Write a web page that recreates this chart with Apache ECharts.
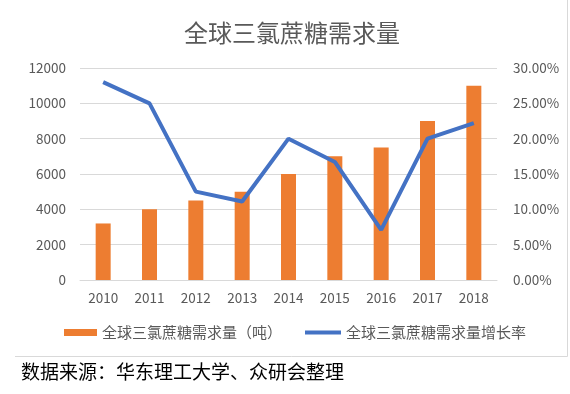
<!DOCTYPE html>
<html><head><meta charset="utf-8">
<script src="https://cdn.jsdelivr.net/npm/echarts@6/dist/echarts.min.js"></script>
<style>html,body{margin:0;padding:0;background:#fff}#c{width:570px;height:394px}</style>
</head><body><div id="c"></div>
<script>
const categories = ['2010','2011','2012','2013','2014','2015','2016','2017','2018'];
const demand = [3200, 4000, 4500, 5000, 6000, 7000, 7500, 9000, 11000];
const growth = [0.28, 0.25, 0.125, 0.111, 0.20, 0.167, 0.071, 0.20, 0.222];
const barName = '全球三氯蔗糖需求量（吨）';
const lineName = '全球三氯蔗糖需求量增长率';
const titleText = '全球三氯蔗糖需求量';
const sourceText = '数据来源：华东理工大学、众研会整理';

const FF = 'Noto Sans CJK SC';
const chart = echarts.init(document.getElementById('c'));
chart.setOption({
  animation: false,
  textStyle: { fontFamily: FF },
  title: [
    { text: titleText, left: 184, top: 21, padding: 0,
      textStyle: { fontSize: 24, fontWeight: 'normal', color: '#595959', fontFamily: FF } },
    { text: sourceText, left: 21, top: 362, padding: 0,
      textStyle: { fontSize: 19, fontWeight: 'normal', color: '#000', fontFamily: FF } }
  ],
  legend: [
    { data: [barName], left: 64, top: 325, padding: 0, itemWidth: 33, itemHeight: 7, icon: 'rect',
      textStyle: { fontSize: 15, color: '#595959', fontFamily: FF } },
    { data: [lineName], left: 305, top: 325, padding: 0, itemWidth: 36, itemHeight: 4, icon: 'rect',
      textStyle: { fontSize: 15, color: '#595959', fontFamily: FF } }
  ],
  grid: { left: 80, right: 73, top: 68, bottom: 114, containLabel: false },
  xAxis: {
    type: 'category', data: categories,
    axisLine: { lineStyle: { color: '#d9d9d9', width: 1 } },
    axisTick: { show: false },
    axisLabel: { color: '#595959', fontSize: 13.5, margin: 11, fontFamily: FF }
  },
  yAxis: [
    { type: 'value', min: 0, max: 12000, interval: 2000,
      axisLine: { show: false }, axisTick: { show: false },
      axisLabel: { color: '#595959', fontSize: 13.5, margin: 14, fontFamily: FF,
        formatter: v => String(v) },
      splitLine: { lineStyle: { color: '#d9d9d9', width: 1 } } },
    { type: 'value', min: 0, max: 0.3, interval: 0.05, position: 'right',
      axisLine: { show: false }, axisTick: { show: false },
      axisLabel: { color: '#595959', fontSize: 13.5, margin: 16, fontFamily: FF,
        formatter: v => (v * 100).toFixed(2) + '%' },
      splitLine: { show: false } }
  ],
  series: [
    { name: barName, type: 'bar', data: demand, barWidth: 15,
      itemStyle: { color: '#ed7d31' } },
    { name: lineName, type: 'line', yAxisIndex: 1, data: growth, symbol: 'none',
      lineStyle: { color: '#4472c4', width: 4 }, itemStyle: { color: '#4472c4' } }
  ],
  graphic: [
    { type: 'line', shape: { x1: 15, y1: 356.5, x2: 567.5, y2: 356.5 }, style: { stroke: '#d9d9d9', lineWidth: 1 } },
    { type: 'line', shape: { x1: 567.5, y1: 0, x2: 567.5, y2: 356.5 }, style: { stroke: '#d9d9d9', lineWidth: 1 } }
  ]
});
</script>
</body></html>
